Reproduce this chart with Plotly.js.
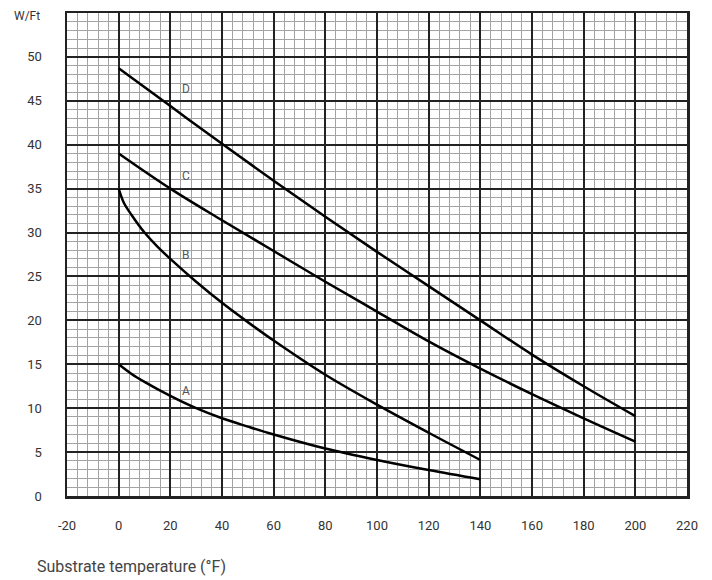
<!DOCTYPE html>
<html>
<head>
<meta charset="utf-8">
<script src="https://cdn.plot.ly/plotly-3.0.1.min.js"></script>
<style>html,body{margin:0;padding:0;background:#fff;}#chart{width:712px;height:580px;}</style>
</head>
<body>
<div id="chart"></div>
<script>
// Curve data (x = substrate temperature °F, y = W/Ft)
const xA = [0, 5, 10, 20, 30, 40, 50, 60, 80, 100, 120, 140];
const yA = [15, 13.9, 13.0, 11.4, 10.0, 8.85, 7.9, 7.0, 5.4, 4.1, 2.95, 1.9];

const xB = [0, 2, 5, 10, 15, 20, 30, 40, 50, 60, 80, 100, 120, 140];
const yB = [35, 33.4, 32.0, 30.0, 28.4, 27.0, 24.4, 22.0, 19.8, 17.7, 13.8, 10.4, 7.2, 4.1];

const xC = [0, 20, 40, 60, 80, 100, 120, 140, 160, 180, 200];
const yC = [39.0, 35.0, 31.4, 27.9, 24.4, 21.0, 17.6, 14.5, 11.6, 8.85, 6.2];

const xD = [0, 20, 40, 60, 80, 100, 120, 140, 160, 180, 200];
const yD = [48.7, 44.4, 40.1, 35.9, 31.8, 27.8, 23.9, 20.0, 16.1, 12.5, 9.1];

const curveNames = ["A", "B", "C", "D"];
const labelX = [26, 26, 26, 26];
const labelY = [12.0, 27.4, 36.4, 46.3];

const xTicks = [-20, 0, 20, 40, 60, 80, 100, 120, 140, 160, 180, 200, 220];
const yTicks = [0, 5, 10, 15, 20, 25, 30, 35, 40, 45, 50];

const xTitle = "Substrate temperature (°F)";
const yTitle = "W/Ft";

const series = [[xA, yA], [xB, yB], [xC, yC], [xD, yD]];
const traces = series.map((s, i) => ({
  x: s[0], y: s[1], type: "scatter", mode: "lines",
  name: curveNames[i],
  line: {color: "#000", width: 2.5, shape: "spline", smoothing: 1.0},
  hoverinfo: "skip"
}));

const annotations = curveNames.map((n, i) => ({
  x: labelX[i], y: labelY[i], xref: "x", yref: "y", text: n, showarrow: false,
  xanchor: "center", yanchor: "middle",
  font: {family: "Roboto, sans-serif", size: 12, color: "#555"}
}));
annotations.push({
  text: xTitle, xref: "paper", yref: "paper", x: -0.052, y: -0.145,
  xanchor: "left", yanchor: "middle", showarrow: false,
  font: {family: "Roboto, sans-serif", size: 16, color: "#444"}
});
annotations.push({
  text: yTitle, xref: "paper", yref: "paper", x: -0.065, y: 0.994,
  xanchor: "center", yanchor: "middle", showarrow: false,
  font: {family: "Roboto, sans-serif", size: 12, color: "#333"}
});

const layout = {
  width: 712, height: 580,
  margin: {l: 67, r: 25, t: 13, b: 84},
  paper_bgcolor: "#fff", plot_bgcolor: "#fff",
  showlegend: false,
  font: {family: "Roboto, sans-serif", size: 13, color: "#333"},
  xaxis: {
    range: [-20, 220], tickmode: "array", tickvals: xTicks, ticktext: xTicks.map(String),
    showgrid: true, gridcolor: "#222", gridwidth: 2,
    zeroline: false, showline: true, mirror: true, linecolor: "#222", linewidth: 2.5,
    ticks: "", ticklabelstandoff: 16,
    tickfont: {family: "Roboto, sans-serif", size: 13, color: "#333"},
    minor: {tickmode: "linear", tick0: 0, dtick: 4, showgrid: true, gridcolor: "#a3a3a3", gridwidth: 1, ticks: ""}
  },
  yaxis: {
    range: [0, 55], tickmode: "array", tickvals: yTicks, ticktext: yTicks.map(String),
    showgrid: true, gridcolor: "#222", gridwidth: 2,
    zeroline: false, showline: true, mirror: true, linecolor: "#222", linewidth: 2.5,
    ticks: "", ticklabelstandoff: 20,
    tickfont: {family: "Roboto, sans-serif", size: 13, color: "#333"},
    minor: {tickmode: "linear", tick0: 0, dtick: 1, showgrid: true, gridcolor: "#a3a3a3", gridwidth: 1, ticks: ""}
  },
  annotations: annotations
};

Plotly.newPlot("chart", traces, layout, {displayModeBar: false, staticPlot: true});
</script>
</body>
</html>
